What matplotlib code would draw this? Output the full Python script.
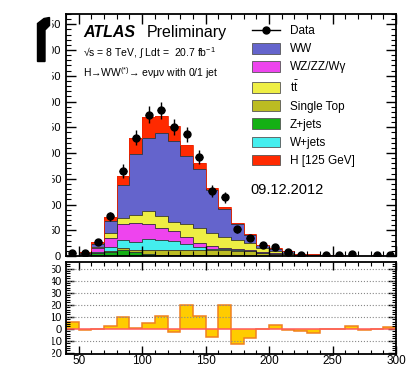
import numpy as np
import matplotlib.pyplot as plt
from matplotlib.patches import Patch, Polygon, Rectangle
from matplotlib.lines import Line2D
from matplotlib.ticker import MultipleLocator

plt.rcParams['font.family'] = ['Liberation Sans', 'DejaVu Sans']
plt.rcParams['mathtext.fontset'] = 'custom'
plt.rcParams['mathtext.rm'] = 'Liberation Sans'
plt.rcParams['mathtext.it'] = 'Liberation Sans:italic'

# mT bins, 10 GeV wide
edges = np.arange(40, 301, 10)
centers = edges[:-1] + 5

# background and signal yields per bin (events)
zjets   = [0.2, 1.5, 5, 8, 12, 8, 4, 2, 1.5, 1, 1, 0.5, 0.5, 0.3, 0.3, 0.2, 0.2, 0.1, 0.1, 0, 0, 0, 0, 0, 0, 0]
stop    = [0.1, 0.5, 1, 1.5, 3, 4, 7, 9, 10, 10, 10, 11, 11, 10, 9, 6, 4, 3, 1, 0.8, 0.3, 0.3, 0.2, 0.2, 0.3, 0.1]
wjets   = [0.1, 0.8, 2, 8.5, 16, 16, 22, 20, 17, 12, 6, 3, 2, 1.5, 1, 0.5, 0.3, 0.2, 0.1, 0.1, 0, 0, 0, 0, 0, 0]
diboson = [0.1, 1.5, 8, 16, 32, 37, 30, 23, 20, 14, 9, 4, 3, 2, 1.5, 1, 0.5, 0.3, 0.2, 0.2, 0.1, 0.1, 0.1, 0.1, 0.1, 0.1]
ttbar   = [0.1, 0.5, 2, 10, 10, 15, 25, 24, 18, 25, 28, 26, 20, 17, 13, 8, 5, 3, 1.5, 1.5, 0.4, 0.4, 0.3, 0.3, 0.4, 0.2]
ww      = [0.1, 1.5, 6, 24, 65, 118, 142, 160, 156, 133, 115, 83, 55, 32, 16, 5, 4.5, 2.5, 1.1, 1.0, 0.2, 0.2, 0.2, 0.2, 0.2, 0.2]
higgs   = [0.1, 0.5, 3, 7.5, 17, 31.5, 39, 34, 30.5, 21, 12, 5.5, 3.1, 2.2, 1.2, 0.3, 0.2, 0.1, 0, 0, 0, 0, 0, 0, 0, 0]
data    = [6, 6, 27, 77.5, 165, 230, 274, 283, 250, 236, 192, 126.5, 114, 52, 34, 21, 18, 8.4, 2, 0, 1, 1, 3, 0, 1, 2]

labels = ['WW', 'WZ/ZZ/W\u03b3', r'$\mathrm{t\bar{t}}$', 'Single Top', 'Z+jets', 'W+jets', 'H [125 GeV]']
colors = {'WW': '#6464cc', 'VV': '#ee44ee', 'tt': '#eeee44', 'st': '#bcbc22',
          'Z': '#14b014', 'W': '#44eeee', 'H': '#ff2a00'}

# stacking order, bottom to top
stack = [(zjets, colors['Z']), (stop, colors['st']), (wjets, colors['W']),
         (diboson, colors['VV']), (ttbar, colors['tt']), (ww, colors['WW']),
         (higgs, colors['H'])]

fig = plt.figure(figsize=(4.16, 3.66), dpi=100)
ax = fig.add_axes([66/416, 1-256/366, 330/416, 242/366])
ax2 = fig.add_axes([66/416, 1-354/366, 330/416, 92/366])

base = np.zeros(len(centers))
tops = []
for vals, col in stack:
    top = base + np.array(vals, dtype=float)
    ax.stairs(top, edges, baseline=base, fill=True, color=col, lw=0)
    tops.append(top)
    base = top
for top in tops[:-1]:
    ax.stairs(top, edges, baseline=None, color='#333333', lw=0.6)
ax.stairs(tops[-1], edges, baseline=None, color='#ee2200', lw=0.6)
total = tops[-1]

data = np.array(data)
m = data > 0
ax.errorbar(centers[m], data[m], yerr=np.sqrt(data[m]), xerr=3, fmt='o',
            color='k', ms=5, lw=1, capsize=0, zorder=5)

ax.set_xlim(40, 300)
ax.set_ylim(0, 470)
ax.xaxis.set_major_locator(MultipleLocator(50))
ax.xaxis.set_minor_locator(MultipleLocator(10))
ax.yaxis.set_major_locator(MultipleLocator(50))
ax.yaxis.set_minor_locator(MultipleLocator(10))
ax.tick_params(which='both', direction='in', top=True, right=True, labelbottom=False, labelsize=8)
ax.tick_params(which='major', length=7, width=1)
ax.tick_params(which='minor', length=3.5, width=0.8)
for s in ax.spines.values():
    s.set_linewidth(1.3)

# labels
tr = ax.transAxes
ax.text(0.0515, 0.905, 'ATLAS', transform=tr, fontsize=11.5, weight='bold', style='italic', va='baseline')
ax.text(0.245, 0.905, 'Preliminary', transform=tr, fontsize=11.5, va='baseline')
ax.text(0.0515, 0.822, '\u221as = 8 TeV, \u222b Ldt =  20.7 fb$^{-1}$', transform=tr, fontsize=7.5, va='baseline')
ax.text(0.0515, 0.74, 'H\u2192WW$^{(*)}$\u2192 e\u03bd\u03bc\u03bd with 0/1 jet', transform=tr, fontsize=7.5, va='baseline')
ax.text(0.5576, 0.258, '09.12.2012', transform=tr, fontsize=10.5, va='baseline')

handles = [Line2D([], [], color='k', marker='o', ms=5, lw=1)]
for lab, key in zip(labels, ['WW', 'VV', 'tt', 'st', 'Z', 'W', 'H']):
    handles.append(Patch(facecolor=colors[key], edgecolor='#555555', lw=0.6))
ax.legend(handles, ['Data'] + labels, loc='upper left', bbox_to_anchor=(0.563, 0.955),
          frameon=False, fontsize=8.5, handlelength=2.4, handleheight=1.0,
          labelspacing=0.49, handletextpad=0.8, borderpad=0, borderaxespad=0)

# data minus prediction
diff = data - total
ax2.stairs(diff, edges, baseline=0, fill=True, color='#ffcc00', lw=0)
ax2.stairs(diff, edges, baseline=0, color='#f08020', lw=1.1)
ax2.axhline(0, color='#ff5c5c', lw=1.4, alpha=0.8)
ax2.set_xlim(40, 300)
ax2.set_ylim(-21, 55.5)
ax2.xaxis.set_major_locator(MultipleLocator(50))
ax2.xaxis.set_minor_locator(MultipleLocator(10))
ax2.yaxis.set_major_locator(MultipleLocator(10))
ax2.yaxis.set_minor_locator(MultipleLocator(2))
for yv in [-10, 10, 20, 30, 40, 50]:
    ax2.axhline(yv, color='#888888', lw=0.8, ls=':')
ax2.tick_params(which='both', direction='in', top=True, right=True)
ax2.tick_params(axis='y', labelsize=8, pad=3)
ax2.tick_params(axis='x', labelsize=8.5, pad=0.5)
ax2.tick_params(which='major', length=6, width=1)
ax2.tick_params(which='minor', length=3, width=0.8)
for s in ax2.spines.values():
    s.set_linewidth(1.3)

# trimmed left margin
fig.add_artist(Rectangle((0, 0), 51/416, 1, transform=fig.transFigure,
                         color='white', zorder=10))
pts = [(37.5, 61.5), (45, 61.5), (45, 30), (49.5, 25.5), (49.5, 17.5), (44, 18.5), (37.5, 23.5)]
fig.add_artist(Polygon([(x/416, 1-y/366) for x, y in pts], closed=True,
                       transform=fig.transFigure, color='black', zorder=11))

fig.savefig('out.png', dpi=100)
